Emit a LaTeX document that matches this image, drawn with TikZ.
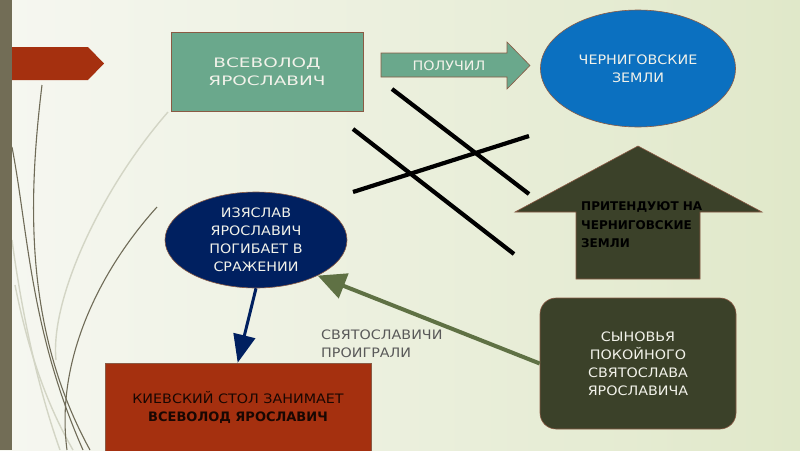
\documentclass[tikz,border=0pt]{standalone}
\usepackage{fontspec}
\setmainfont{DejaVu Sans}[FakeStretch=1.1]
\newfontfamily\widefont{DejaVu Sans}[FakeStretch=1.42]
\newfontfamily\plainfont{DejaVu Sans}
\usetikzlibrary{shapes.geometric,arrows.meta,calc}
\definecolor{bgl}{HTML}{F6F7F1}
\definecolor{bgr}{HTML}{E0E8C9}
\definecolor{barc}{HTML}{726D56}
\definecolor{rust}{HTML}{A5300F}
\definecolor{teal}{HTML}{6AA88C}
\definecolor{bluec}{HTML}{0B70C0}
\definecolor{navy}{HTML}{002060}
\definecolor{olive}{HTML}{3B4129}
\definecolor{oliveline}{HTML}{5F7144}
\definecolor{edge}{HTML}{8A5A44}
\definecolor{wisp}{HTML}{6F6B57}
\definecolor{wisplight}{HTML}{D3D5C5}
\definecolor{paletext}{HTML}{F2F2EA}
\begin{document}
\begin{tikzpicture}[x=1pt,y=-1pt,
  shapeedge/.style={draw=edge,line width=0.6pt},
  lbl/.style={font=\fontsize{13}{18}\selectfont,align=center,inner sep=0pt},
  greenbox/.style={shapeedge,fill=teal,text=paletext,lbl,rectangle},
  ovalnode/.style={shapeedge,ellipse,lbl,text=paletext},
  darkbox/.style={shapeedge,fill=olive,text=paletext,lbl,rectangle,rounded corners=16pt},
  crossline/.style={line width=4.2pt,black},
  dwisp/.style={draw=wisp,line width=1.1pt},
  lwisp/.style={draw=wisplight,line width=1.4pt}]
\useasboundingbox (0,0) rectangle (800,450);
\shade[left color=bgl,right color=bgr] (0,0) rectangle (800,450);
% decorative wisps
\draw[lwisp] (168,112) .. controls (100,190) and (50,300) .. (56,360);
\draw[lwisp] (15,285) .. controls (30,360) and (50,410) .. (73,450);
\draw[lwisp] (12,240) .. controls (20,300) and (35,380) .. (60,450);
\draw[dwisp] (42,85) .. controls (28,200) and (24,330) .. (90,450);
\draw[dwisp] (12,147) .. controls (28,230) and (30,330) .. (83,450);
\draw[dwisp] (157,207) .. controls (100,270) and (55,360) .. (67,450);
% left bar and red tab
\fill[rust] (0,47) -- (88,47) -- (104,63.5) -- (88,80) -- (0,80) -- cycle;
\fill[barc] (0,0) rectangle (12,450);
% top row
\node[greenbox,minimum width=192pt,minimum height=79pt,font=\widefont\fontsize{13}{18}\selectfont] (vs) at (267,71.5) {ВСЕВОЛОД\\ЯРОСЛАВИЧ};
\draw[shapeedge,fill=teal] (381,53) -- (507,53) -- (507,42) -- (530,65.5) -- (507,89) -- (507,77) -- (381,77) -- cycle;
\node[lbl,text=paletext] (pol) at (449,66) {ПОЛУЧИЛ};
\node[ovalnode,fill=bluec,minimum width=195pt,minimum height=117pt] (ch) at (638,68.5) {ЧЕРНИГОВСКИЕ\\ЗЕМЛИ};
% crossing strokes
\draw[crossline] (392,89) -- (529,194);
\draw[crossline] (353,129) -- (514,254);
\draw[crossline] (353,192) -- (529,136);
% up arrow
\draw[shapeedge,fill=olive] (638,146) -- (762,212) -- (700,212) -- (700,279) -- (576,279) -- (576,212) -- (515,212) -- cycle;
\node[lbl,align=left,anchor=north west,text=black,font=\plainfont\bfseries\fontsize{12}{18.5}\selectfont] (pr) at (581,201.5) {ПРИТЕНДУЮТ НА\\ЧЕРНИГОВСКИЕ\\ЗЕМЛИ};
% middle
\node[ovalnode,fill=navy,minimum width=182pt,minimum height=96pt] (izy) at (256,240) {ИЗЯСЛАВ\\ЯРОСЛАВИЧ\\ПОГИБАЕТ В\\СРАЖЕНИИ};
\node[shapeedge,fill=rust,rectangle,lbl,text=black!85!rust,minimum width=266pt,minimum height=89pt] (kiev) at (238,407.5) {КИЕВСКИЙ СТОЛ ЗАНИМАЕТ\\{\plainfont\bfseries ВСЕВОЛОД ЯРОСЛАВИЧ}};
\node[darkbox,minimum width=196pt,minimum height=131pt] (syn) at (638,363.5) {СЫНОВЬЯ\\ПОКОЙНОГО\\СВЯТОСЛАВА\\ЯРОСЛАВИЧА};
\node[lbl,align=left,anchor=west,text=black!65] (lab) at (321,344) {СВЯТОСЛАВИЧИ\\ПРОИГРАЛИ};
% connectors
\draw[navy,line width=3pt,-{Triangle[length=28pt,width=22pt]}] (izy.south) -- ([xshift=133pt]kiev.north west);
\draw[oliveline,line width=4pt,-{Triangle[length=28pt,width=26pt]}] (syn.west) -- (izy.-30);
\end{tikzpicture}
\end{document}
